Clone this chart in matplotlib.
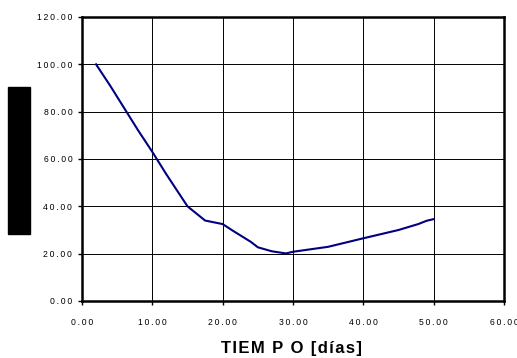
import matplotlib
matplotlib.use("Agg")
import matplotlib.pyplot as plt
from matplotlib.patches import Rectangle

dias = [2, 4, 6, 8, 10, 12, 15, 17.5, 20, 21.5, 24, 25, 27, 29, 30, 35, 40, 45, 47.8, 49, 50]
valores = [100, 91, 81.5, 72, 63, 53.5, 40, 34, 32.5, 29.6, 25, 22.7, 21, 20.1, 20.8, 22.9, 26.5, 30, 32.5, 33.9, 34.6]
xticks = [0, 10, 20, 30, 40, 50, 60]
yticks = [0, 20, 40, 60, 80, 100, 120]
xlabel = "TIEM P O [días]"

def spaced(s, sep="\u200a"):
    return sep.join(s)

plt.rcParams['font.family'] = ['Liberation Sans', 'DejaVu Sans']
W, H = 517, 358
fig = plt.figure(figsize=(W/100, H/100), dpi=100)
ax = fig.add_axes([82/W, 1-301/H, (504-82)/W, (301-17)/H])
ax.plot(dias, valores, color='#000080', lw=1.5)
ax.set_xlim(0, 60)
ax.set_ylim(0, 120)
ax.set_xticks(xticks)
ax.set_yticks(yticks)
ax.set_xticklabels([spaced(f"{v:.2f}", "\u2009") for v in xticks], fontsize=6.2)
ax.set_yticklabels([spaced(f"{v:.2f}", "\u2009") for v in yticks], fontsize=6.2)
ax.grid(True, color='black', lw=0.7)
ax.set_axisbelow(True)
for s in ax.spines.values():
    s.set_linewidth(1.8)
ax.tick_params(direction='out', length=3, width=1)
ax.tick_params(axis='y', pad=4)
ax.tick_params(axis='x', pad=9)
fig.text(291/W, 1-349/H, spaced(xlabel), ha='center', va='center', fontsize=12, fontweight='bold')
fig.patches.append(Rectangle((8/W, 1-234/H), 22/W, 147/H, transform=fig.transFigure, color='black', figure=fig))
fig.savefig("out.png", dpi=100)
